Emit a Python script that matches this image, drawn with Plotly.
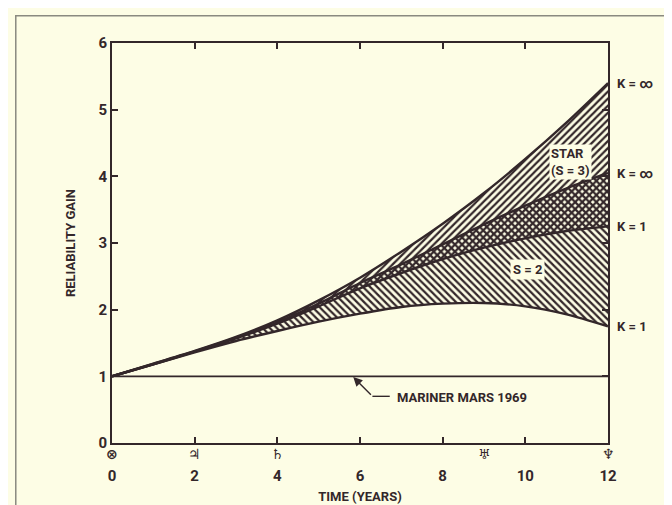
import plotly.graph_objects as go

# ---- data ----
years = [0, 1, 2, 3, 4, 5, 6, 7, 8, 9, 10, 11, 12]
star_s3_k_inf = [1.00, 1.19, 1.38, 1.59, 1.84, 2.14, 2.48, 2.87, 3.29, 3.75, 4.26, 4.81, 5.40]
star_s3_k_1 = [1.00, 1.18, 1.37, 1.57, 1.79, 2.05, 2.32, 2.55, 2.76, 2.93, 3.07, 3.18, 3.25]
s2_k_inf = [1.00, 1.185, 1.375, 1.58, 1.81, 2.09, 2.40, 2.68, 2.98, 3.28, 3.56, 3.82, 4.05]
s2_k_1 = [1.00, 1.18, 1.36, 1.53, 1.68, 1.82, 1.94, 2.04, 2.09, 2.10, 2.05, 1.93, 1.75]
mariner_mars_1969 = [1, 1, 1, 1, 1, 1, 1, 1, 1, 1, 1, 1, 1]

x_tickvals = [0, 2, 4, 6, 8, 10, 12]
x_ticktext = ["0", "2", "4", "6", "8", "10", "12"]
y_tickvals = [0, 1, 2, 3, 4, 5, 6]
planet_years = [0, 2, 4, 9, 12]
planet_symbols = ["⊗", "♃", "♄", "♅", "♆"]
end_labels = ["K = ∞", "K = ∞", "K = 1", "K = 1"]
end_values = [star_s3_k_inf[-1], s2_k_inf[-1], star_s3_k_1[-1], s2_k_1[-1]]

BG = "rgb(253,253,229)"
INK = "#33272a"
FONT = "Roboto, Liberation Sans, sans-serif"


def f(size, weight="bold", family=FONT):
    return dict(family=family, size=size, color=INK, weight=weight)


fig = go.Figure()

line = dict(color=INK, width=2.4, shape="spline", smoothing=0.8)

# STAR (S = 3) band
fig.add_trace(go.Scatter(x=years, y=star_s3_k_1, mode="lines", line=line,
                         hoverinfo="skip", showlegend=False))
fig.add_trace(go.Scatter(x=years, y=star_s3_k_inf, mode="lines", line=line,
                         fill="tonexty", fillcolor="rgba(0,0,0,0)",
                         fillpattern=dict(shape="/", fgcolor=INK, bgcolor="rgba(0,0,0,0)",
                                          size=5, solidity=0.45, fillmode="replace"),
                         hoverinfo="skip", showlegend=False))
# S = 2 band
fig.add_trace(go.Scatter(x=years, y=s2_k_1, mode="lines", line=line,
                         hoverinfo="skip", showlegend=False))
fig.add_trace(go.Scatter(x=years, y=s2_k_inf, mode="lines", line=line,
                         fill="tonexty", fillcolor="rgba(0,0,0,0)",
                         fillpattern=dict(shape="\\", fgcolor=INK, bgcolor="rgba(0,0,0,0)",
                                          size=5, solidity=0.45, fillmode="replace"),
                         hoverinfo="skip", showlegend=False))
# Mariner Mars 1969 baseline
fig.add_trace(go.Scatter(x=years, y=mariner_mars_1969, mode="lines",
                         line=dict(color=INK, width=1.8),
                         hoverinfo="skip", showlegend=False))

annotations = []
for lab, v in zip(end_labels, end_values):
    annotations.append(dict(x=12, y=v, xref="x", yref="y", text=lab, showarrow=False,
                            xanchor="left", yanchor="middle", xshift=7, font=f(13)))
for yr, sym in zip(planet_years, planet_symbols):
    annotations.append(dict(x=yr, y=-0.027, xref="x", yref="paper", text=sym,
                            showarrow=False, xanchor="center", yanchor="middle",
                            font=f(14, family="DejaVu Sans")))
annotations += [
    dict(x=11.1, y=4.22, xref="x", yref="y", text="STAR<br>(S = 3)", showarrow=False,
         align="left", bgcolor=BG, borderpad=1, font=f(13)),
    dict(x=10.05, y=2.6, xref="x", yref="y", text="S = 2", showarrow=False,
         bgcolor=BG, borderpad=2, font=f(13)),
    dict(x=6.84, y=0.69, xref="x", yref="y", text="MARINER MARS 1969", showarrow=False,
         xanchor="left", yanchor="middle", font=f(13)),
    dict(x=5.82, y=1.0, xref="x", yref="y", ax=6.3, ay=0.7, axref="x", ayref="y",
         text="", showarrow=True, arrowhead=2, arrowsize=1.3, arrowwidth=1.4,
         arrowcolor=INK, standoff=1),
]

fig.update_layout(
    width=672, height=505,
    margin=dict(l=104, r=72, t=35, b=70),
    paper_bgcolor=BG, plot_bgcolor=BG,
    font=f(13),
    showlegend=False,
    annotations=annotations,
    shapes=[
        dict(type="line", xref="x", yref="y", x0=6.3, y0=0.7, x1=6.72, y1=0.7,
             line=dict(color=INK, width=1.4)),
        dict(type="rect", xref="paper", yref="paper", x0=-0.194, x1=1.5, y0=-0.5, y1=1.068,
             line=dict(color="#8a8a80", width=1.5), layer="below"),
    ],
    xaxis=dict(range=[0, 12], tickvals=x_tickvals, ticktext=x_ticktext,
               ticks="inside", ticklen=6, tickwidth=1.5, tickcolor=INK,
               showline=True, linecolor=INK, linewidth=2, mirror="ticks",
               showgrid=False, zeroline=False, ticklabelstandoff=18,
               automargin=False, tickfont=f(15),
               title=dict(text="TIME (YEARS)", standoff=8, font=f(13))),
    yaxis=dict(range=[0, 6], tickvals=y_tickvals,
               ticks="inside", ticklen=6, tickwidth=1.5, tickcolor=INK,
               showline=True, linecolor=INK, linewidth=2, mirror="ticks",
               showgrid=False, zeroline=False, automargin=False,
               tickfont=f(15),
               title=dict(text="RELIABILITY GAIN", standoff=20, font=f(13))),
)

fig.write_html("out.html")
